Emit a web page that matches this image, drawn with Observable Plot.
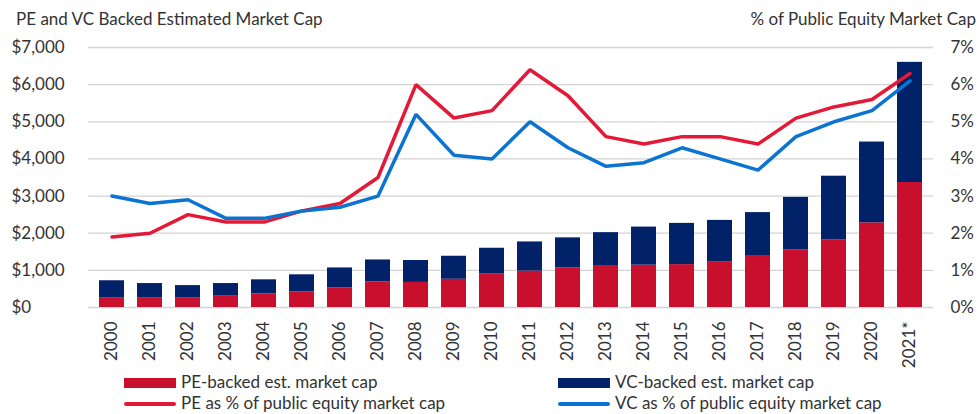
<!DOCTYPE html>
<html>
<head>
<meta charset="utf-8">
<script src="https://cdn.jsdelivr.net/npm/d3@7"></script>
<script src="https://cdn.jsdelivr.net/npm/@observablehq/plot@0.6"></script>
<style>
  html, body { margin: 0; padding: 0; background: #fff; }
  #wrap { position: relative; width: 979px; height: 414px; font-family: Lato, "Open Sans", sans-serif; color: #333; font-size: 17px; }
  .title { position: absolute; top: 9px; font-size: 17px; line-height: 20px; white-space: nowrap; }
  #chart { position: absolute; left: 0; top: 30px; }
  .leg { position: absolute; font-size: 17px; line-height: 20px; white-space: nowrap; }
  .sw { position: absolute; }
</style>
</head>
<body>
<div id="wrap">
  <div class="title" style="left:16px">PE and VC Backed Estimated Market Cap</div>
  <div class="title" style="right:3px">% of Public Equity Market Cap</div>
  <div id="chart"></div>
  <div id="legend"></div>
</div>
<script>
const years = ["2000","2001","2002","2003","2004","2005","2006","2007","2008","2009","2010","2011","2012","2013","2014","2015","2016","2017","2018","2019","2020","2021*"];
// $ billions (estimated market cap)
const peCap = [265,265,265,320,365,420,530,690,675,760,900,980,1065,1110,1140,1155,1235,1400,1555,1825,2280,3365];
const vcCap = [455,380,325,325,380,460,535,590,590,620,695,785,810,905,1025,1110,1110,1155,1410,1710,2175,3235];
// % of public equity market cap
const pePct = [1.9,2.0,2.5,2.3,2.3,2.6,2.8,3.5,6.0,5.1,5.3,6.4,5.7,4.6,4.4,4.6,4.6,4.4,5.1,5.4,5.6,6.3];
const vcPct = [3.0,2.8,2.9,2.4,2.4,2.6,2.7,3.0,5.2,4.1,4.0,5.0,4.3,3.8,3.9,4.3,4.0,3.7,4.6,5.0,5.3,6.1];
const leftTicks = [0,1000,2000,3000,4000,5000,6000,7000];
const rightTickLabels = ["0%","1%","2%","3%","4%","5%","6%","7%"];

const seriesNames = ["PE-backed est. market cap","VC-backed est. market cap","PE as % of public equity market cap","VC as % of public equity market cap"];
const colors = {pe: "#c8102e", vc: "#012169", peLine: "#e31937", vcLine: "#0a74d0"};

const bars = [];
years.forEach((y, i) => {
  bars.push({year: y, series: "PE", value: peCap[i]});
  bars.push({year: y, series: "VC", value: vcCap[i]});
});
const peLine = years.map((y, i) => ({year: y, pct: pePct[i]}));
const vcLine = years.map((y, i) => ({year: y, pct: vcPct[i]}));
// right axis shares the y scale: 1% <-> $1,000
const pctToY = d => d.pct * 1000;

const plot = Plot.plot({
  width: 979,
  height: 340,
  marginLeft: 88,
  marginRight: 46,
  marginTop: 17,
  marginBottom: 63,
  style: {fontFamily: "Lato, 'Open Sans', sans-serif", fontSize: "17px", color: "#333", background: "#fff"},
  x: {type: "band", domain: years, paddingInner: 0.35, paddingOuter: 0.175, label: null},
  y: {domain: [0, 7000], label: null},
  color: {domain: ["PE", "VC"], range: [colors.pe, colors.vc]},
  marks: [
    Plot.gridY(leftTicks, {stroke: "#d4d4d4", strokeOpacity: 1, strokeWidth: 1.3}),
    Plot.barY(bars, {x: "year", y: "value", fill: "series"}),
    Plot.line(peLine, {x: "year", y: pctToY, stroke: colors.peLine, strokeWidth: 3.5, strokeLinejoin: "miter"}),
    Plot.line(vcLine, {x: "year", y: pctToY, stroke: colors.vcLine, strokeWidth: 3.5, strokeLinejoin: "miter"}),
    Plot.axisY(leftTicks, {anchor: "left", tickSize: 0, tickPadding: 77, textAnchor: "start", tickFormat: d3.format("$,"), label: null}),
    Plot.axisY(leftTicks, {anchor: "right", tickSize: 0, tickPadding: 17, textAnchor: "start", tickFormat: (d, i) => rightTickLabels[leftTicks.indexOf(d)], label: null}),
    Plot.axisX({anchor: "bottom", tickSize: 0, tickPadding: 14, tickRotate: -90, label: null})
  ]
});
document.getElementById("chart").appendChild(plot);

// legend
const leg = document.getElementById("legend");
const items = [
  {x: 124, y: 383, kind: "rect", color: colors.pe, text: seriesNames[0]},
  {x: 558, y: 383, kind: "rect", color: colors.vc, text: seriesNames[1]},
  {x: 124, y: 404, kind: "line", color: colors.peLine, text: seriesNames[2]},
  {x: 558, y: 404, kind: "line", color: colors.vcLine, text: seriesNames[3]}
];
items.forEach(it => {
  const sw = document.createElement("div");
  sw.className = "sw";
  sw.style.left = it.x + "px";
  sw.style.width = "52px";
  sw.style.background = it.color;
  if (it.kind === "rect") { sw.style.top = (it.y - 5) + "px"; sw.style.height = "10px"; }
  else { sw.style.top = (it.y - 2) + "px"; sw.style.height = "4px"; sw.style.borderRadius = "2px"; }
  leg.appendChild(sw);
  const t = document.createElement("div");
  t.className = "leg";
  t.style.left = (it.x + 57) + "px";
  t.style.top = (it.y - 11) + "px";
  t.textContent = it.text;
  leg.appendChild(t);
});
</script>
</body>
</html>
